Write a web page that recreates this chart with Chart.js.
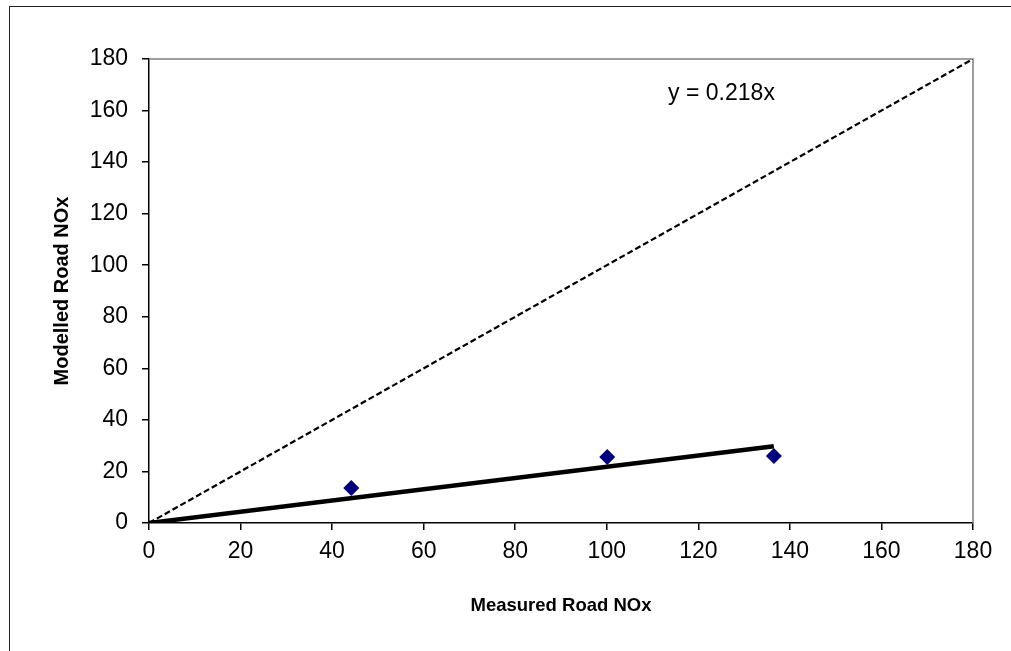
<!DOCTYPE html>
<html>
<head>
<meta charset="utf-8">
<script src="https://cdn.jsdelivr.net/npm/chart.js@4.4.1/dist/chart.umd.min.js"></script>
<style>
  body { margin: 0; background: #fff; overflow: hidden; }
  #frame { position: absolute; left: 9px; top: 6px; width: 1100px; height: 700px; border: 1px solid #222; }
  #wrap { position: absolute; left: 0; top: 0; width: 1011px; height: 651px; }
</style>
</head>
<body>
<div id="frame"></div>
<div id="wrap"><canvas id="chart"></canvas></div>
<script>
// measured vs modelled road NOx
const measured = [44.2, 100.1, 136.5];
const modelled = [13.6, 25.6, 26.0];

// fitted line y = 0.218x, drawn over the data range
const trendX = [0, 136.5];
const trendY = [0, 29.8];

// 1:1 reference line
const oneToOneX = [0, 180];
const oneToOneY = [0, 180];

const axisTicks = [0, 20, 40, 60, 80, 100, 120, 140, 160, 180];
const equationText = 'y = 0.218x';

const FONT = "'Liberation Sans', Arial, sans-serif";

// gray frame on top/right of the plot area, equation label
const extras = {
    id: 'extras',
    beforeDatasetsDraw(chart) {
        const { ctx, chartArea: a } = chart;
        ctx.save();
        ctx.strokeStyle = '#808080';
        ctx.lineWidth = 1.5;
        ctx.beginPath();
        ctx.moveTo(a.left, a.top);
        ctx.lineTo(a.right, a.top);
        ctx.lineTo(a.right, a.bottom);
        ctx.stroke();
        ctx.restore();
    },
    afterDatasetsDraw(chart) {
        const { ctx, scales } = chart;
        ctx.save();
        ctx.font = '23px ' + FONT;
        ctx.fillStyle = '#000';
        ctx.textAlign = 'left';
        ctx.textBaseline = 'alphabetic';
        ctx.fillText(equationText, scales.x.getPixelForValue(113.4), scales.y.getPixelForValue(164));
        ctx.restore();
    }
};

function axis(title, isY) {
    return {
        type: 'linear',
        min: 0,
        max: 180,
        afterBuildTicks(scale) {
            scale.ticks = axisTicks.map(v => ({ value: v }));
        },
        afterFit(scale) {
            if (isY) scale.width = 109;
            else scale.height = 100;
        },
        grid: {
            drawOnChartArea: false,
            drawTicks: true,
            tickLength: 7,
            color: '#000',
            lineWidth: 1.5
        },
        border: { display: true, color: '#000', width: 1.5 },
        ticks: {
            color: '#000',
            padding: isY ? 14 : 8,
            font: { family: FONT, size: 23 },
            maxRotation: 0
        },
        title: {
            display: true,
            text: title,
            color: '#000',
            font: { family: FONT, size: isY ? 20 : 18.5, weight: 'bold' },
            padding: isY ? { top: 10, bottom: 0 } : { top: 0, bottom: 6 }
        }
    };
}

new Chart(document.getElementById('chart'), {
    type: 'scatter',
    data: {
        datasets: [
            {
                label: '1:1',
                data: oneToOneX.map((x, i) => ({ x, y: oneToOneY[i] })),
                showLine: true,
                borderColor: '#000',
                borderWidth: 2.2,
                borderDash: [6, 3],
                pointRadius: 0
            },
            {
                label: 'Trend',
                data: trendX.map((x, i) => ({ x, y: trendY[i] })),
                showLine: true,
                borderColor: '#000',
                borderWidth: 4.5,
                pointRadius: 0
            },
            {
                label: 'Sites',
                data: measured.map((x, i) => ({ x, y: modelled[i] })),
                pointStyle: 'rectRot',
                pointRadius: 8,
                backgroundColor: '#000080',
                borderColor: '#000080',
                borderWidth: 0
            }
        ]
    },
    options: {
        responsive: true,
        maintainAspectRatio: false,
        animation: false,
        layout: { padding: { left: 40, right: 38, top: 59, bottom: 28 } },
        plugins: {
            legend: { display: false },
            tooltip: { enabled: false }
        },
        scales: {
            x: axis('Measured Road NOx', false),
            y: axis('Modelled Road NOx', true)
        }
    },
    plugins: [extras]
});
</script>
</body>
</html>
